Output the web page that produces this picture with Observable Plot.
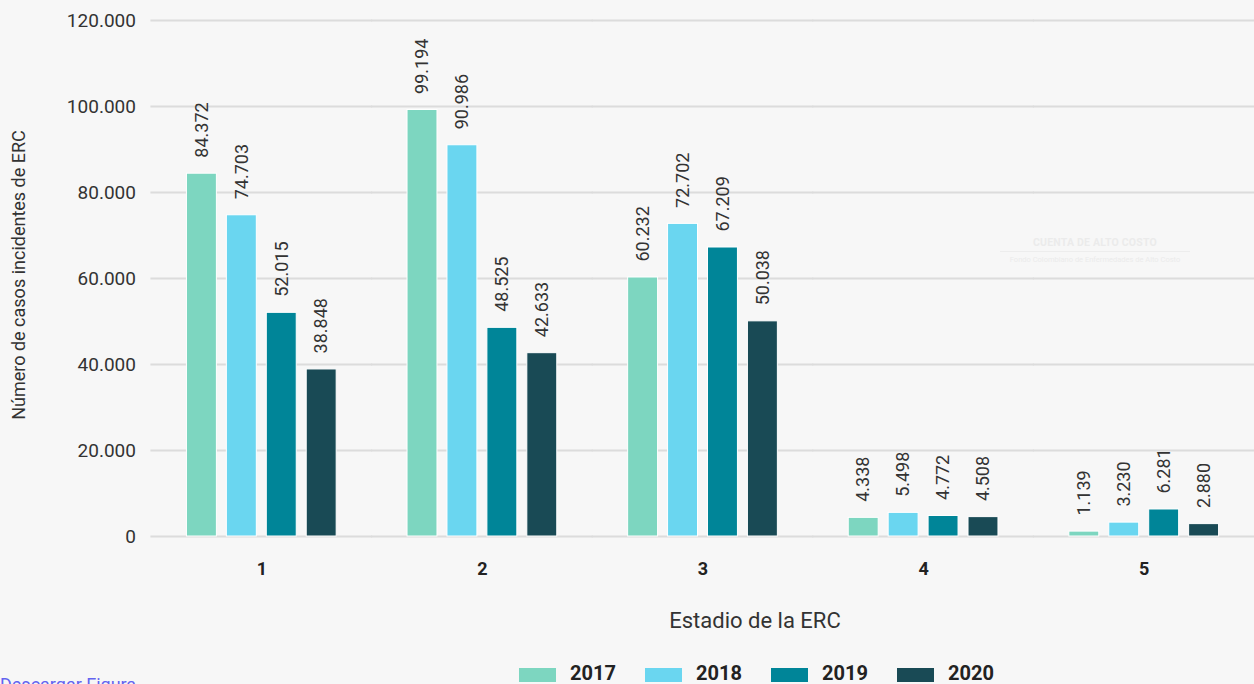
<!DOCTYPE html>
<html>
<head>
<meta charset="utf-8">
<script src="https://cdn.jsdelivr.net/npm/d3@7"></script>
<script src="https://cdn.jsdelivr.net/npm/@observablehq/plot@0.6"></script>
<style>
  body { margin: 0; background: #f7f7f7; font-family: Roboto, "Noto Sans", sans-serif; }
  #wrap { position: relative; width: 1254px; height: 684px; overflow: hidden; background: #f7f7f7; }
  #chart { position: absolute; left: 0; top: 0; z-index: 1; }
  #wm { position: absolute; left: 1000px; top: 236px; width: 190px; text-align: center; color: #ebebeb; z-index: 0; }
  #wm .t1 { font-size: 10.5px; font-weight: bold; letter-spacing: 0.2px; border-bottom: 1px solid #ededed; padding-bottom: 2px; }
  #wm .t2 { font-size: 7.5px; margin-top: 3px; white-space: nowrap; }
  #ytitle { position: absolute; left: 18px; top: 275px; transform: translate(-50%, -50%) rotate(-90deg); white-space: nowrap; font-size: 18px; color: #333; z-index: 2; }
  #xtitle { position: absolute; left: 755px; top: 620px; transform: translate(-50%, -50%); white-space: nowrap; font-size: 22px; color: #333; z-index: 2; }
  #legend { position: absolute; left: 519px; top: 662px; display: flex; z-index: 2; }
  #legend .item { display: flex; align-items: center; width: 126px; }
  #legend .sw { width: 37px; height: 14px; margin-top: 3px; flex: none; }
  #legend .lb { font-size: 20px; font-weight: bold; color: #222; line-height: 22px; margin-left: 14px; }
  #dl { position: absolute; left: 0; top: 674px; font-size: 18px; color: #6464f0; text-decoration: none; z-index: 2; }
</style>
</head>
<body>
<div id="wrap">
  <div id="wm"><div class="t1">CUENTA DE ALTO COSTO</div><div class="t2">Fondo Colombiano de Enfermedades de Alto Costo</div></div>
  <div id="chart"></div>
  <div id="ytitle">Número de casos incidentes de ERC</div>
  <div id="xtitle">Estadio de la ERC</div>
  <div id="legend"></div>
  <a id="dl" href="#">Descargar Figura</a>
</div>
<script>
const stages = ["1", "2", "3", "4", "5"];
const years = ["2017", "2018", "2019", "2020"];
const v2017 = [84372, 99194, 60232, 4338, 1139];
const v2018 = [74703, 90986, 72702, 5498, 3230];
const v2019 = [52015, 48525, 67209, 4772, 6281];
const v2020 = [38848, 42633, 50038, 4508, 2880];
const colors = ["#7dd6c0", "#6ad6f0", "#008598", "#194a55"];
const yTicks = [0, 20000, 40000, 60000, 80000, 100000, 120000];

const series = [v2017, v2018, v2019, v2020];
const data = stages.flatMap((s, i) => years.map((y, j) => ({stage: s, year: y, value: series[j][i]})));

const loc = d3.formatLocale({decimal: ",", thousands: ".", grouping: [3], currency: ["$", ""]});
const fmt = loc.format(",d");

const chart = Plot.plot({
  width: 1254,
  height: 640,
  marginLeft: 151,
  marginRight: 0,
  marginTop: 20,
  marginBottom: 104,
  style: {background: "transparent", fontFamily: "Roboto, 'Noto Sans', sans-serif", color: "#333"},
  fx: {domain: stages, paddingInner: 0.276, paddingOuter: 0.138, round: false, label: null},
  x: {domain: years, axis: null, paddingInner: 0.25, paddingOuter: 0.125, round: false},
  y: {domain: [0, 120000], axis: null},
  color: {domain: years, range: colors},
  marks: [
    Plot.gridY(yTicks, {stroke: "#dcdcdc", strokeOpacity: 1, strokeWidth: 2, insetLeft: -31, insetRight: -31}),
    Plot.axisY(yTicks, {tickFormat: fmt, tickSize: 0, tickPadding: 46, fontSize: 19, fill: "#333", label: null}),
    Plot.barY(data, {fx: "stage", x: "year", y: "value", fill: "year", stroke: "#ffffff", strokeWidth: 1}),
    Plot.text(data, {fx: "stage", x: "year", y: "value", text: d => fmt(d.value), rotate: -90, textAnchor: "start", dy: -16, fontSize: 18, fill: "#333"}),
    Plot.axisFx({anchor: "bottom", tickSize: 0, tickPadding: 26, fontSize: 18, fontWeight: "bold", fill: "#222", label: null})
  ]
});
document.getElementById("chart").appendChild(chart);

const legend = document.getElementById("legend");
years.forEach((y, i) => {
  const item = document.createElement("div");
  item.className = "item";
  item.innerHTML = `<span class="sw" style="background:${colors[i]}"></span><span class="lb">${y}</span>`;
  legend.appendChild(item);
});
</script>
</body>
</html>
